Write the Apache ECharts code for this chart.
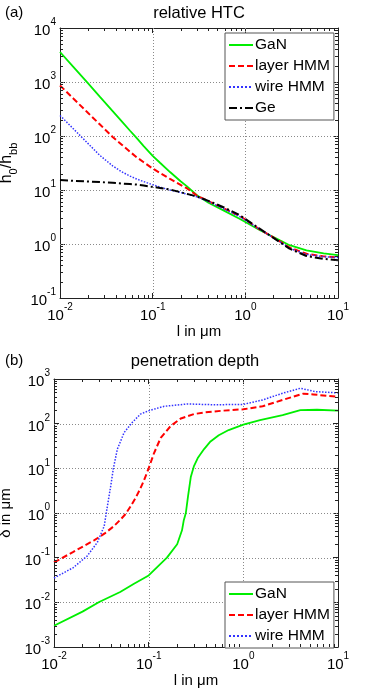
<!DOCTYPE html>
<html>
<head>
<meta charset="utf-8">
<script src="https://cdn.jsdelivr.net/npm/echarts@6/dist/echarts.min.js"></script>
<style>
html, body { margin: 0; padding: 0; background: #fff; }
#chart { width: 374px; height: 690px; }
</style>
</head>
<body>
<div id="chart"></div>
<script>
// (a) relative HTC
var xHtc = [0.01, 0.014, 0.02, 0.027, 0.037, 0.0464, 0.057, 0.067, 0.08, 0.1, 0.12, 0.154, 0.2, 0.233, 0.3, 0.4, 0.58, 0.875, 1.44, 2.36, 3, 4.57, 7, 10];
var htcGaN = [3590, 1880, 950, 530, 290, 187, 125, 92, 65, 43, 32, 21.5, 14.5, 11.8, 8.0, 5.8, 4.2, 2.9, 1.8, 1.17, 0.95, 0.76, 0.67, 0.62];
var htcLayer = [863, 491, 269, 163, 96, 69, 51, 40.5, 32.7, 25, 20.7, 16, 12.4, 10.8, 7.9, 6.2, 4.6, 3.3, 1.85, 1.12, 0.86, 0.66, 0.59, 0.56];
var htcWire = [240, 135, 73, 43.5, 28, 21.7, 18.1, 16, 14.3, 12.5, 11.3, 10, 9.0, 8.4, 7.5, 6.1, 4.5, 3.2, 1.85, 1.1, 0.83, 0.64, 0.58, 0.56];
var htcGe = [15.3, 14.8, 14.4, 14, 13.6, 13.2, 12.9, 12.6, 12.1, 11.4, 10.9, 10.2, 9.1, 8.5, 7.6, 6.3, 4.8, 3.4, 1.9, 1.08, 0.82, 0.6, 0.53, 0.5];

// (b) penetration depth
var xDepthGaN = [0.01, 0.02, 0.03, 0.05, 0.07, 0.1, 0.156, 0.2, 0.225, 0.235, 0.247, 0.26, 0.279, 0.3, 0.33, 0.385, 0.45, 0.55, 0.7, 1, 1.5, 2.6, 4, 6, 10];
var depthGaN = [0.003, 0.0062, 0.0102, 0.017, 0.026, 0.04, 0.1, 0.2, 0.41, 0.69, 1.0, 2.3, 6.5, 11, 17, 27, 40, 55, 72, 95, 120, 155, 200, 205, 195];
var xDepthLayer = [0.01, 0.016, 0.0265, 0.03, 0.035, 0.043, 0.05, 0.057, 0.065, 0.073, 0.081, 0.089, 0.1, 0.114, 0.134, 0.171, 0.219, 0.3, 0.385, 0.6, 1, 1.6, 2.6, 4.3, 5.5, 10];
var depthLayer = [0.078, 0.135, 0.245, 0.29, 0.36, 0.51, 0.7, 0.95, 1.45, 2.2, 3.4, 5.3, 10, 22, 48, 89, 131, 164, 178, 195, 210, 245, 340, 470, 450, 400];
var xDepthWire = [0.01, 0.016, 0.0225, 0.0287, 0.0339, 0.0367, 0.0398, 0.0424, 0.0467, 0.055, 0.067, 0.082, 0.1, 0.146, 0.257, 0.5, 1, 1.6, 2.6, 4, 5.8, 10];
var depthWire = [0.035, 0.06, 0.11, 0.22, 0.51, 1.45, 4.1, 10, 27, 63, 106, 164, 195, 245, 276, 265, 270, 340, 480, 620, 520, 490];

var names = ['GaN', 'layer HMM', 'wire HMM', 'Ge'];

// steps inside each decade that get a minor tick
var minorSteps = [2, 3, 4, 5, 6, 7, 8, 9];

var font = 'Liberation Sans, Arial, sans-serif';
var ink = '#000';

function pairs(xs, ys) {
  return xs.map(function (x, i) { return [x, ys[i]]; });
}

function minorValues(loExp, hiExp) {
  var out = [];
  for (var e = loExp; e < hiExp; e++) {
    minorSteps.forEach(function (m) { out.push(m * Math.pow(10, e)); });
  }
  return out;
}

// decades strictly inside the axis range (the dotted grid)
function decades(loExp, hiExp) {
  var out = [];
  for (var e = loExp + 1; e < hiExp; e++) out.push(Math.pow(10, e));
  return out;
}

function powLabel(v) {
  var e = Math.round(Math.log10(v));
  return '{b|10}{e|' + e + '}';
}

var labelRich = {
  b: { fontSize: 15, fontFamily: font, color: ink, padding: [6, 0, 0, 0] },
  e: { fontSize: 10, fontFamily: font, color: ink, verticalAlign: 'top' }
};

function logAxis(grid, pos, min, max, main) {
  var ax = {
    type: 'log',
    logBase: 10,
    gridIndex: grid,
    position: pos,
    min: min,
    max: max,
    axisLine: { show: true, onZero: false, lineStyle: { color: '#222', width: 1 } },
    axisTick: { show: true, inside: true, length: 5, lineStyle: { color: '#222' } },
    axisLabel: { show: false },
    splitLine: { show: false }
  };
  if (main) {
    ax.axisLabel = { show: true, formatter: powLabel, rich: labelRich, margin: 4 };
  }
  return ax;
}

var chartDom = document.getElementById('chart');
var myChart = echarts.init(chartDom);
var option;

var xa0 = logAxis(0, 'bottom', 0.01, 10, true);
xa0.name = 'l in μm';
xa0.nameLocation = 'middle';
xa0.nameGap = 26;
xa0.nameTextStyle = { fontSize: 15, fontFamily: font, color: ink };

var xa1 = logAxis(1, 'bottom', 0.01, 10, true);
xa1.name = 'l in μm';
xa1.nameLocation = 'middle';
xa1.nameGap = 26;
xa1.nameTextStyle = { fontSize: 15, fontFamily: font, color: ink };

var ya0 = logAxis(0, 'left', 0.1, 10000, true);
ya0.name = '{i|h}{s|0}{i|/h}{s|bb}';
ya0.nameLocation = 'middle';
ya0.nameGap = 36;
ya0.nameTextStyle = {
  rich: {
    i: { fontSize: 16, fontFamily: font, color: ink, padding: [0, 0, 5, 0] },
    s: { fontSize: 11, fontFamily: font, color: ink, verticalAlign: 'bottom' }
  }
};

var ya1 = logAxis(1, 'left', 0.001, 1000, true);
ya1.name = 'δ in μm';
ya1.nameLocation = 'middle';
ya1.nameGap = 34;
ya1.nameTextStyle = { fontSize: 15, fontFamily: font, color: ink };

function line(name, x, y, data, color, type, width) {
  return {
    name: name,
    type: 'line',
    xAxisIndex: x,
    yAxisIndex: y,
    data: data,
    symbol: 'none',
    smooth: false,
    lineStyle: { color: color, type: type, width: width },
    itemStyle: { color: color },
    silent: true,
    z: 3
  };
}

// marks along the plot frame: 'tick' = short inward ticks on both sides,
// 'grid' = dotted line across the plot; placed on pixel centres
function frameMarks(grid, axis, kind, values, other) {
  return {
    type: 'custom',
    xAxisIndex: grid,
    yAxisIndex: grid,
    silent: true,
    z: kind === 'grid' ? 1 : 4,
    data: values,
    renderItem: function (params, api) {
      var cs = params.coordSys;
      var v = api.value(0);
      var st = kind === 'grid'
        ? { stroke: '#8a8a8a', lineWidth: 1, lineDash: [1, 2] }
        : { stroke: '#222', lineWidth: 1 };
      var len = 3;
      if (axis === 'x') {
        var px = Math.round(api.coord([v, other])[0]) + 0.5;
        if (kind === 'grid') {
          return { type: 'line', shape: { x1: px, y1: cs.y, x2: px, y2: cs.y + cs.height }, style: st };
        }
        return { type: 'group', children: [
          { type: 'line', shape: { x1: px, y1: cs.y + cs.height, x2: px, y2: cs.y + cs.height - len }, style: st },
          { type: 'line', shape: { x1: px, y1: cs.y, x2: px, y2: cs.y + len }, style: st }
        ] };
      }
      var py = Math.round(api.coord([other, v])[1]) + 0.5;
      if (kind === 'grid') {
        return { type: 'line', shape: { x1: cs.x, y1: py, x2: cs.x + cs.width, y2: py }, style: st };
      }
      return { type: 'group', children: [
        { type: 'line', shape: { x1: cs.x, y1: py, x2: cs.x + len, y2: py }, style: st },
        { type: 'line', shape: { x1: cs.x + cs.width, y1: py, x2: cs.x + cs.width - len, y2: py }, style: st }
      ] };
    }
  };
}

var legendBase = {
  orient: 'vertical',
  left: 225,
  itemWidth: 24,
  itemHeight: 14,
  itemGap: 5,
  padding: [4, 4, 4, 3],
  borderColor: '#555',
  borderWidth: 1,
  backgroundColor: '#fff',
  borderRadius: 0,
  selectedMode: false,
  itemStyle: { opacity: 0 },
  textStyle: { fontSize: 15.5, fontFamily: font, color: ink, padding: [0, 0, 0, -3] }
};

option = {
  animation: false,
  grid: [
    { left: 60, right: 36, top: 28, height: 270, outerBoundsMode: 'none', containLabel: false },
    { left: 54, right: 36, top: 379, height: 268, outerBoundsMode: 'none', containLabel: false }
  ],
  xAxis: [xa0, xa1, logAxis(0, 'top', 0.01, 10, false), logAxis(1, 'top', 0.01, 10, false)],
  yAxis: [ya0, ya1, logAxis(0, 'right', 0.1, 10000, false), logAxis(1, 'right', 0.001, 1000, false)],
  legend: [
    Object.assign({}, legendBase, { data: names, top: 33 }),
    Object.assign({}, legendBase, { data: names.slice(0, 3), top: 582 })
  ],
  graphic: [
    { type: 'text', x: 199, y: 13, style: { text: 'relative HTC', fill: ink, font: '16.5px ' + font, textAlign: 'center', textVerticalAlign: 'middle' } },
    { type: 'text', x: 5, y: 13, style: { text: '(a)', fill: ink, font: '15px ' + font, textVerticalAlign: 'middle' } },
    { type: 'text', x: 195, y: 361, style: { text: 'penetration depth', fill: ink, font: '16.5px ' + font, textAlign: 'center', textVerticalAlign: 'middle' } },
    { type: 'text', x: 5, y: 361, style: { text: '(b)', fill: ink, font: '15px ' + font, textVerticalAlign: 'middle' } }
  ],
  series: [
    frameMarks(0, 'x', 'grid', decades(-2, 1), 1),
    frameMarks(0, 'y', 'grid', decades(-1, 4), 1),
    frameMarks(1, 'x', 'grid', decades(-2, 1), 1),
    frameMarks(1, 'y', 'grid', decades(-3, 3), 1),
    line('GaN', 0, 0, pairs(xHtc, htcGaN), '#00ee00', 'solid', 1.8),
    line('layer HMM', 0, 0, pairs(xHtc, htcLayer), '#ff0000', [6, 3], 2),
    line('wire HMM', 0, 0, pairs(xHtc, htcWire), '#3333ff', 'dotted', 1.5),
    line('Ge', 0, 0, pairs(xHtc, htcGe), '#000000', [8, 3, 2, 3], 2),
    line('GaN', 1, 1, pairs(xDepthGaN, depthGaN), '#00ee00', 'solid', 1.8),
    line('layer HMM', 1, 1, pairs(xDepthLayer, depthLayer), '#ff0000', [6, 3], 2),
    line('wire HMM', 1, 1, pairs(xDepthWire, depthWire), '#3333ff', 'dotted', 1.5),
    frameMarks(0, 'x', 'tick', minorValues(-2, 1), 1),
    frameMarks(0, 'y', 'tick', minorValues(-1, 4), 1),
    frameMarks(1, 'x', 'tick', minorValues(-2, 1), 1),
    frameMarks(1, 'y', 'tick', minorValues(-3, 3), 1)
  ]
};

option && myChart.setOption(option);
</script>
</body>
</html>
